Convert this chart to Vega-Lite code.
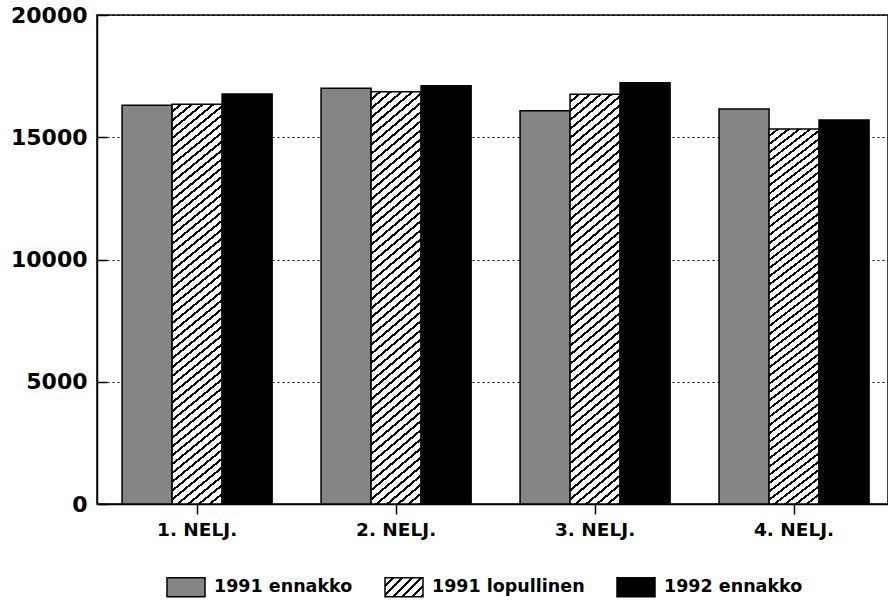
{
  "$schema": "https://vega.github.io/schema/vega-lite/v6.json",
  "width": 791,
  "height": 489,
  "autosize": {"type": "none"},
  "padding": {"left": 97, "top": 15, "right": 0, "bottom": 100},
  "background": "white",
  "config": {
    "view": {"stroke": "black", "strokeWidth": 1.5},
    "font": "DejaVu Sans"
  },
  "data": {
    "values": [
      {"quarter": "1. NELJ.", "series": "1991 ennakko", "value": 16310},
      {"quarter": "1. NELJ.", "series": "1991 lopullinen", "value": 16350},
      {"quarter": "1. NELJ.", "series": "1992 ennakko", "value": 16770},
      {"quarter": "2. NELJ.", "series": "1991 ennakko", "value": 17005},
      {"quarter": "2. NELJ.", "series": "1991 lopullinen", "value": 16866},
      {"quarter": "2. NELJ.", "series": "1992 ennakko", "value": 17111},
      {"quarter": "3. NELJ.", "series": "1991 ennakko", "value": 16088},
      {"quarter": "3. NELJ.", "series": "1991 lopullinen", "value": 16760},
      {"quarter": "3. NELJ.", "series": "1992 ennakko", "value": 17234},
      {"quarter": "4. NELJ.", "series": "1991 ennakko", "value": 16158},
      {"quarter": "4. NELJ.", "series": "1991 lopullinen", "value": 15340},
      {"quarter": "4. NELJ.", "series": "1992 ennakko", "value": 15708}
    ]
  },
  "mark": {"type": "bar", "stroke": "black", "strokeWidth": 1.5},
  "encoding": {
    "x": {
      "field": "quarter",
      "type": "nominal",
      "sort": null,
      "scale": {"paddingInner": 0.246, "paddingOuter": 0.1106, "align": 0.57},
      "axis": {
        "title": null,
        "labelAngle": 0,
        "labelFont": "DejaVu Sans",
        "labelFontSize": 18.5,
        "labelFontWeight": "bold",
        "labelColor": "black",
        "labelPadding": 6,
        "tickSize": 10,
        "tickColor": "black",
        "tickWidth": 1.5,
        "domainColor": "black",
        "domainWidth": 1.5,
        "grid": false
      }
    },
    "xOffset": {
      "field": "series",
      "type": "nominal",
      "sort": null,
      "scale": {"paddingInner": 0, "paddingOuter": 0}
    },
    "y": {
      "field": "value",
      "type": "quantitative",
      "scale": {"domain": [0, 20000], "nice": false},
      "axis": {
        "title": null,
        "values": [0, 5000, 10000, 15000, 20000],
        "format": "d",
        "labelFont": "DejaVu Sans",
        "labelFontSize": 22,
        "labelFontWeight": "bold",
        "labelColor": "black",
        "labelPadding": 20,
        "tickSize": -10,
        "tickColor": "black",
        "tickWidth": 1.5,
        "domainColor": "black",
        "domainWidth": 1.5,
        "grid": true,
        "gridColor": "black",
        "gridDash": [2, 3],
        "gridWidth": 1,
        "gridOpacity": 1
      }
    },
    "fill": {
      "condition": {
        "test": "datum.series === '1991 lopullinen'",
        "value": {
          "gradient": "linear",
          "x1": 0, "y1": 0, "x2": 0.1117, "y2": 1.091,
          "stops": [
            {"offset": 0, "color": "#fff"}, {"offset": 0.014, "color": "#fff"}, {"offset": 0.014, "color": "#000"}, {"offset": 0.02, "color": "#000"},
            {"offset": 0.02, "color": "#fff"}, {"offset": 0.034, "color": "#fff"}, {"offset": 0.034, "color": "#000"}, {"offset": 0.04, "color": "#000"},
            {"offset": 0.04, "color": "#fff"}, {"offset": 0.054, "color": "#fff"}, {"offset": 0.054, "color": "#000"}, {"offset": 0.06, "color": "#000"},
            {"offset": 0.06, "color": "#fff"}, {"offset": 0.074, "color": "#fff"}, {"offset": 0.074, "color": "#000"}, {"offset": 0.08, "color": "#000"},
            {"offset": 0.08, "color": "#fff"}, {"offset": 0.094, "color": "#fff"}, {"offset": 0.094, "color": "#000"}, {"offset": 0.1, "color": "#000"},
            {"offset": 0.1, "color": "#fff"}, {"offset": 0.114, "color": "#fff"}, {"offset": 0.114, "color": "#000"}, {"offset": 0.12, "color": "#000"},
            {"offset": 0.12, "color": "#fff"}, {"offset": 0.134, "color": "#fff"}, {"offset": 0.134, "color": "#000"}, {"offset": 0.14, "color": "#000"},
            {"offset": 0.14, "color": "#fff"}, {"offset": 0.154, "color": "#fff"}, {"offset": 0.154, "color": "#000"}, {"offset": 0.16, "color": "#000"},
            {"offset": 0.16, "color": "#fff"}, {"offset": 0.174, "color": "#fff"}, {"offset": 0.174, "color": "#000"}, {"offset": 0.18, "color": "#000"},
            {"offset": 0.18, "color": "#fff"}, {"offset": 0.194, "color": "#fff"}, {"offset": 0.194, "color": "#000"}, {"offset": 0.2, "color": "#000"},
            {"offset": 0.2, "color": "#fff"}, {"offset": 0.214, "color": "#fff"}, {"offset": 0.214, "color": "#000"}, {"offset": 0.22, "color": "#000"},
            {"offset": 0.22, "color": "#fff"}, {"offset": 0.234, "color": "#fff"}, {"offset": 0.234, "color": "#000"}, {"offset": 0.24, "color": "#000"},
            {"offset": 0.24, "color": "#fff"}, {"offset": 0.254, "color": "#fff"}, {"offset": 0.254, "color": "#000"}, {"offset": 0.26, "color": "#000"},
            {"offset": 0.26, "color": "#fff"}, {"offset": 0.274, "color": "#fff"}, {"offset": 0.274, "color": "#000"}, {"offset": 0.28, "color": "#000"},
            {"offset": 0.28, "color": "#fff"}, {"offset": 0.294, "color": "#fff"}, {"offset": 0.294, "color": "#000"}, {"offset": 0.3, "color": "#000"},
            {"offset": 0.3, "color": "#fff"}, {"offset": 0.314, "color": "#fff"}, {"offset": 0.314, "color": "#000"}, {"offset": 0.32, "color": "#000"},
            {"offset": 0.32, "color": "#fff"}, {"offset": 0.334, "color": "#fff"}, {"offset": 0.334, "color": "#000"}, {"offset": 0.34, "color": "#000"},
            {"offset": 0.34, "color": "#fff"}, {"offset": 0.354, "color": "#fff"}, {"offset": 0.354, "color": "#000"}, {"offset": 0.36, "color": "#000"},
            {"offset": 0.36, "color": "#fff"}, {"offset": 0.374, "color": "#fff"}, {"offset": 0.374, "color": "#000"}, {"offset": 0.38, "color": "#000"},
            {"offset": 0.38, "color": "#fff"}, {"offset": 0.394, "color": "#fff"}, {"offset": 0.394, "color": "#000"}, {"offset": 0.4, "color": "#000"},
            {"offset": 0.4, "color": "#fff"}, {"offset": 0.414, "color": "#fff"}, {"offset": 0.414, "color": "#000"}, {"offset": 0.42, "color": "#000"},
            {"offset": 0.42, "color": "#fff"}, {"offset": 0.434, "color": "#fff"}, {"offset": 0.434, "color": "#000"}, {"offset": 0.44, "color": "#000"},
            {"offset": 0.44, "color": "#fff"}, {"offset": 0.454, "color": "#fff"}, {"offset": 0.454, "color": "#000"}, {"offset": 0.46, "color": "#000"},
            {"offset": 0.46, "color": "#fff"}, {"offset": 0.474, "color": "#fff"}, {"offset": 0.474, "color": "#000"}, {"offset": 0.48, "color": "#000"},
            {"offset": 0.48, "color": "#fff"}, {"offset": 0.494, "color": "#fff"}, {"offset": 0.494, "color": "#000"}, {"offset": 0.5, "color": "#000"},
            {"offset": 0.5, "color": "#fff"}, {"offset": 0.514, "color": "#fff"}, {"offset": 0.514, "color": "#000"}, {"offset": 0.52, "color": "#000"},
            {"offset": 0.52, "color": "#fff"}, {"offset": 0.534, "color": "#fff"}, {"offset": 0.534, "color": "#000"}, {"offset": 0.54, "color": "#000"},
            {"offset": 0.54, "color": "#fff"}, {"offset": 0.554, "color": "#fff"}, {"offset": 0.554, "color": "#000"}, {"offset": 0.56, "color": "#000"},
            {"offset": 0.56, "color": "#fff"}, {"offset": 0.574, "color": "#fff"}, {"offset": 0.574, "color": "#000"}, {"offset": 0.58, "color": "#000"},
            {"offset": 0.58, "color": "#fff"}, {"offset": 0.594, "color": "#fff"}, {"offset": 0.594, "color": "#000"}, {"offset": 0.6, "color": "#000"},
            {"offset": 0.6, "color": "#fff"}, {"offset": 0.614, "color": "#fff"}, {"offset": 0.614, "color": "#000"}, {"offset": 0.62, "color": "#000"},
            {"offset": 0.62, "color": "#fff"}, {"offset": 0.634, "color": "#fff"}, {"offset": 0.634, "color": "#000"}, {"offset": 0.64, "color": "#000"},
            {"offset": 0.64, "color": "#fff"}, {"offset": 0.654, "color": "#fff"}, {"offset": 0.654, "color": "#000"}, {"offset": 0.66, "color": "#000"},
            {"offset": 0.66, "color": "#fff"}, {"offset": 0.674, "color": "#fff"}, {"offset": 0.674, "color": "#000"}, {"offset": 0.68, "color": "#000"},
            {"offset": 0.68, "color": "#fff"}, {"offset": 0.694, "color": "#fff"}, {"offset": 0.694, "color": "#000"}, {"offset": 0.7, "color": "#000"},
            {"offset": 0.7, "color": "#fff"}, {"offset": 0.714, "color": "#fff"}, {"offset": 0.714, "color": "#000"}, {"offset": 0.72, "color": "#000"},
            {"offset": 0.72, "color": "#fff"}, {"offset": 0.734, "color": "#fff"}, {"offset": 0.734, "color": "#000"}, {"offset": 0.74, "color": "#000"},
            {"offset": 0.74, "color": "#fff"}, {"offset": 0.754, "color": "#fff"}, {"offset": 0.754, "color": "#000"}, {"offset": 0.76, "color": "#000"},
            {"offset": 0.76, "color": "#fff"}, {"offset": 0.774, "color": "#fff"}, {"offset": 0.774, "color": "#000"}, {"offset": 0.78, "color": "#000"},
            {"offset": 0.78, "color": "#fff"}, {"offset": 0.794, "color": "#fff"}, {"offset": 0.794, "color": "#000"}, {"offset": 0.8, "color": "#000"},
            {"offset": 0.8, "color": "#fff"}, {"offset": 0.814, "color": "#fff"}, {"offset": 0.814, "color": "#000"}, {"offset": 0.82, "color": "#000"},
            {"offset": 0.82, "color": "#fff"}, {"offset": 0.834, "color": "#fff"}, {"offset": 0.834, "color": "#000"}, {"offset": 0.84, "color": "#000"},
            {"offset": 0.84, "color": "#fff"}, {"offset": 0.854, "color": "#fff"}, {"offset": 0.854, "color": "#000"}, {"offset": 0.86, "color": "#000"},
            {"offset": 0.86, "color": "#fff"}, {"offset": 0.874, "color": "#fff"}, {"offset": 0.874, "color": "#000"}, {"offset": 0.88, "color": "#000"},
            {"offset": 0.88, "color": "#fff"}, {"offset": 0.894, "color": "#fff"}, {"offset": 0.894, "color": "#000"}, {"offset": 0.9, "color": "#000"},
            {"offset": 0.9, "color": "#fff"}, {"offset": 0.914, "color": "#fff"}, {"offset": 0.914, "color": "#000"}, {"offset": 0.92, "color": "#000"},
            {"offset": 0.92, "color": "#fff"}, {"offset": 0.934, "color": "#fff"}, {"offset": 0.934, "color": "#000"}, {"offset": 0.94, "color": "#000"},
            {"offset": 0.94, "color": "#fff"}, {"offset": 0.954, "color": "#fff"}, {"offset": 0.954, "color": "#000"}, {"offset": 0.96, "color": "#000"},
            {"offset": 0.96, "color": "#fff"}, {"offset": 0.974, "color": "#fff"}, {"offset": 0.974, "color": "#000"}, {"offset": 0.98, "color": "#000"},
            {"offset": 0.98, "color": "#fff"}, {"offset": 0.994, "color": "#fff"}, {"offset": 0.994, "color": "#000"}, {"offset": 1, "color": "#000"}
          ]
        }
      },
      "field": "series",
      "type": "nominal",
      "sort": null,
      "scale": {
        "range": [
          "#858585",
          {"expr": "{gradient: 'linear', x1: 0, y1: 0, x2: 1.2, y2: 0.6, stops: [{offset: 0, color: '#fff'}, {offset: 0.1167, color: '#fff'}, {offset: 0.1167, color: '#000'}, {offset: 0.1667, color: '#000'}, {offset: 0.1667, color: '#fff'}, {offset: 0.2833, color: '#fff'}, {offset: 0.2833, color: '#000'}, {offset: 0.3333, color: '#000'}, {offset: 0.3333, color: '#fff'}, {offset: 0.45, color: '#fff'}, {offset: 0.45, color: '#000'}, {offset: 0.5, color: '#000'}, {offset: 0.5, color: '#fff'}, {offset: 0.6167, color: '#fff'}, {offset: 0.6167, color: '#000'}, {offset: 0.6667, color: '#000'}, {offset: 0.6667, color: '#fff'}, {offset: 0.7833, color: '#fff'}, {offset: 0.7833, color: '#000'}, {offset: 0.8333, color: '#000'}, {offset: 0.8333, color: '#fff'}, {offset: 0.95, color: '#fff'}, {offset: 0.95, color: '#000'}, {offset: 1, color: '#000'}]}"},
          "#000000"
        ]
      },
      "legend": {
        "orient": "none",
        "legendX": 69,
        "legendY": 552,
        "direction": "horizontal",
        "title": null,
        "padding": 0,
        "symbolType": "M-1,-0.5H1V0.5H-1Z",
        "symbolSize": 1444,
        "symbolStrokeColor": "black",
        "symbolStrokeWidth": 1.5,
        "symbolOpacity": 1,
        "labelFont": "DejaVu Sans",
        "labelFontSize": 17.5,
        "labelFontWeight": "bold",
        "labelColor": "black",
        "labelOffset": 8,
        "labelLimit": 300,
        "columnPadding": 29
      }
    }
  }
}
